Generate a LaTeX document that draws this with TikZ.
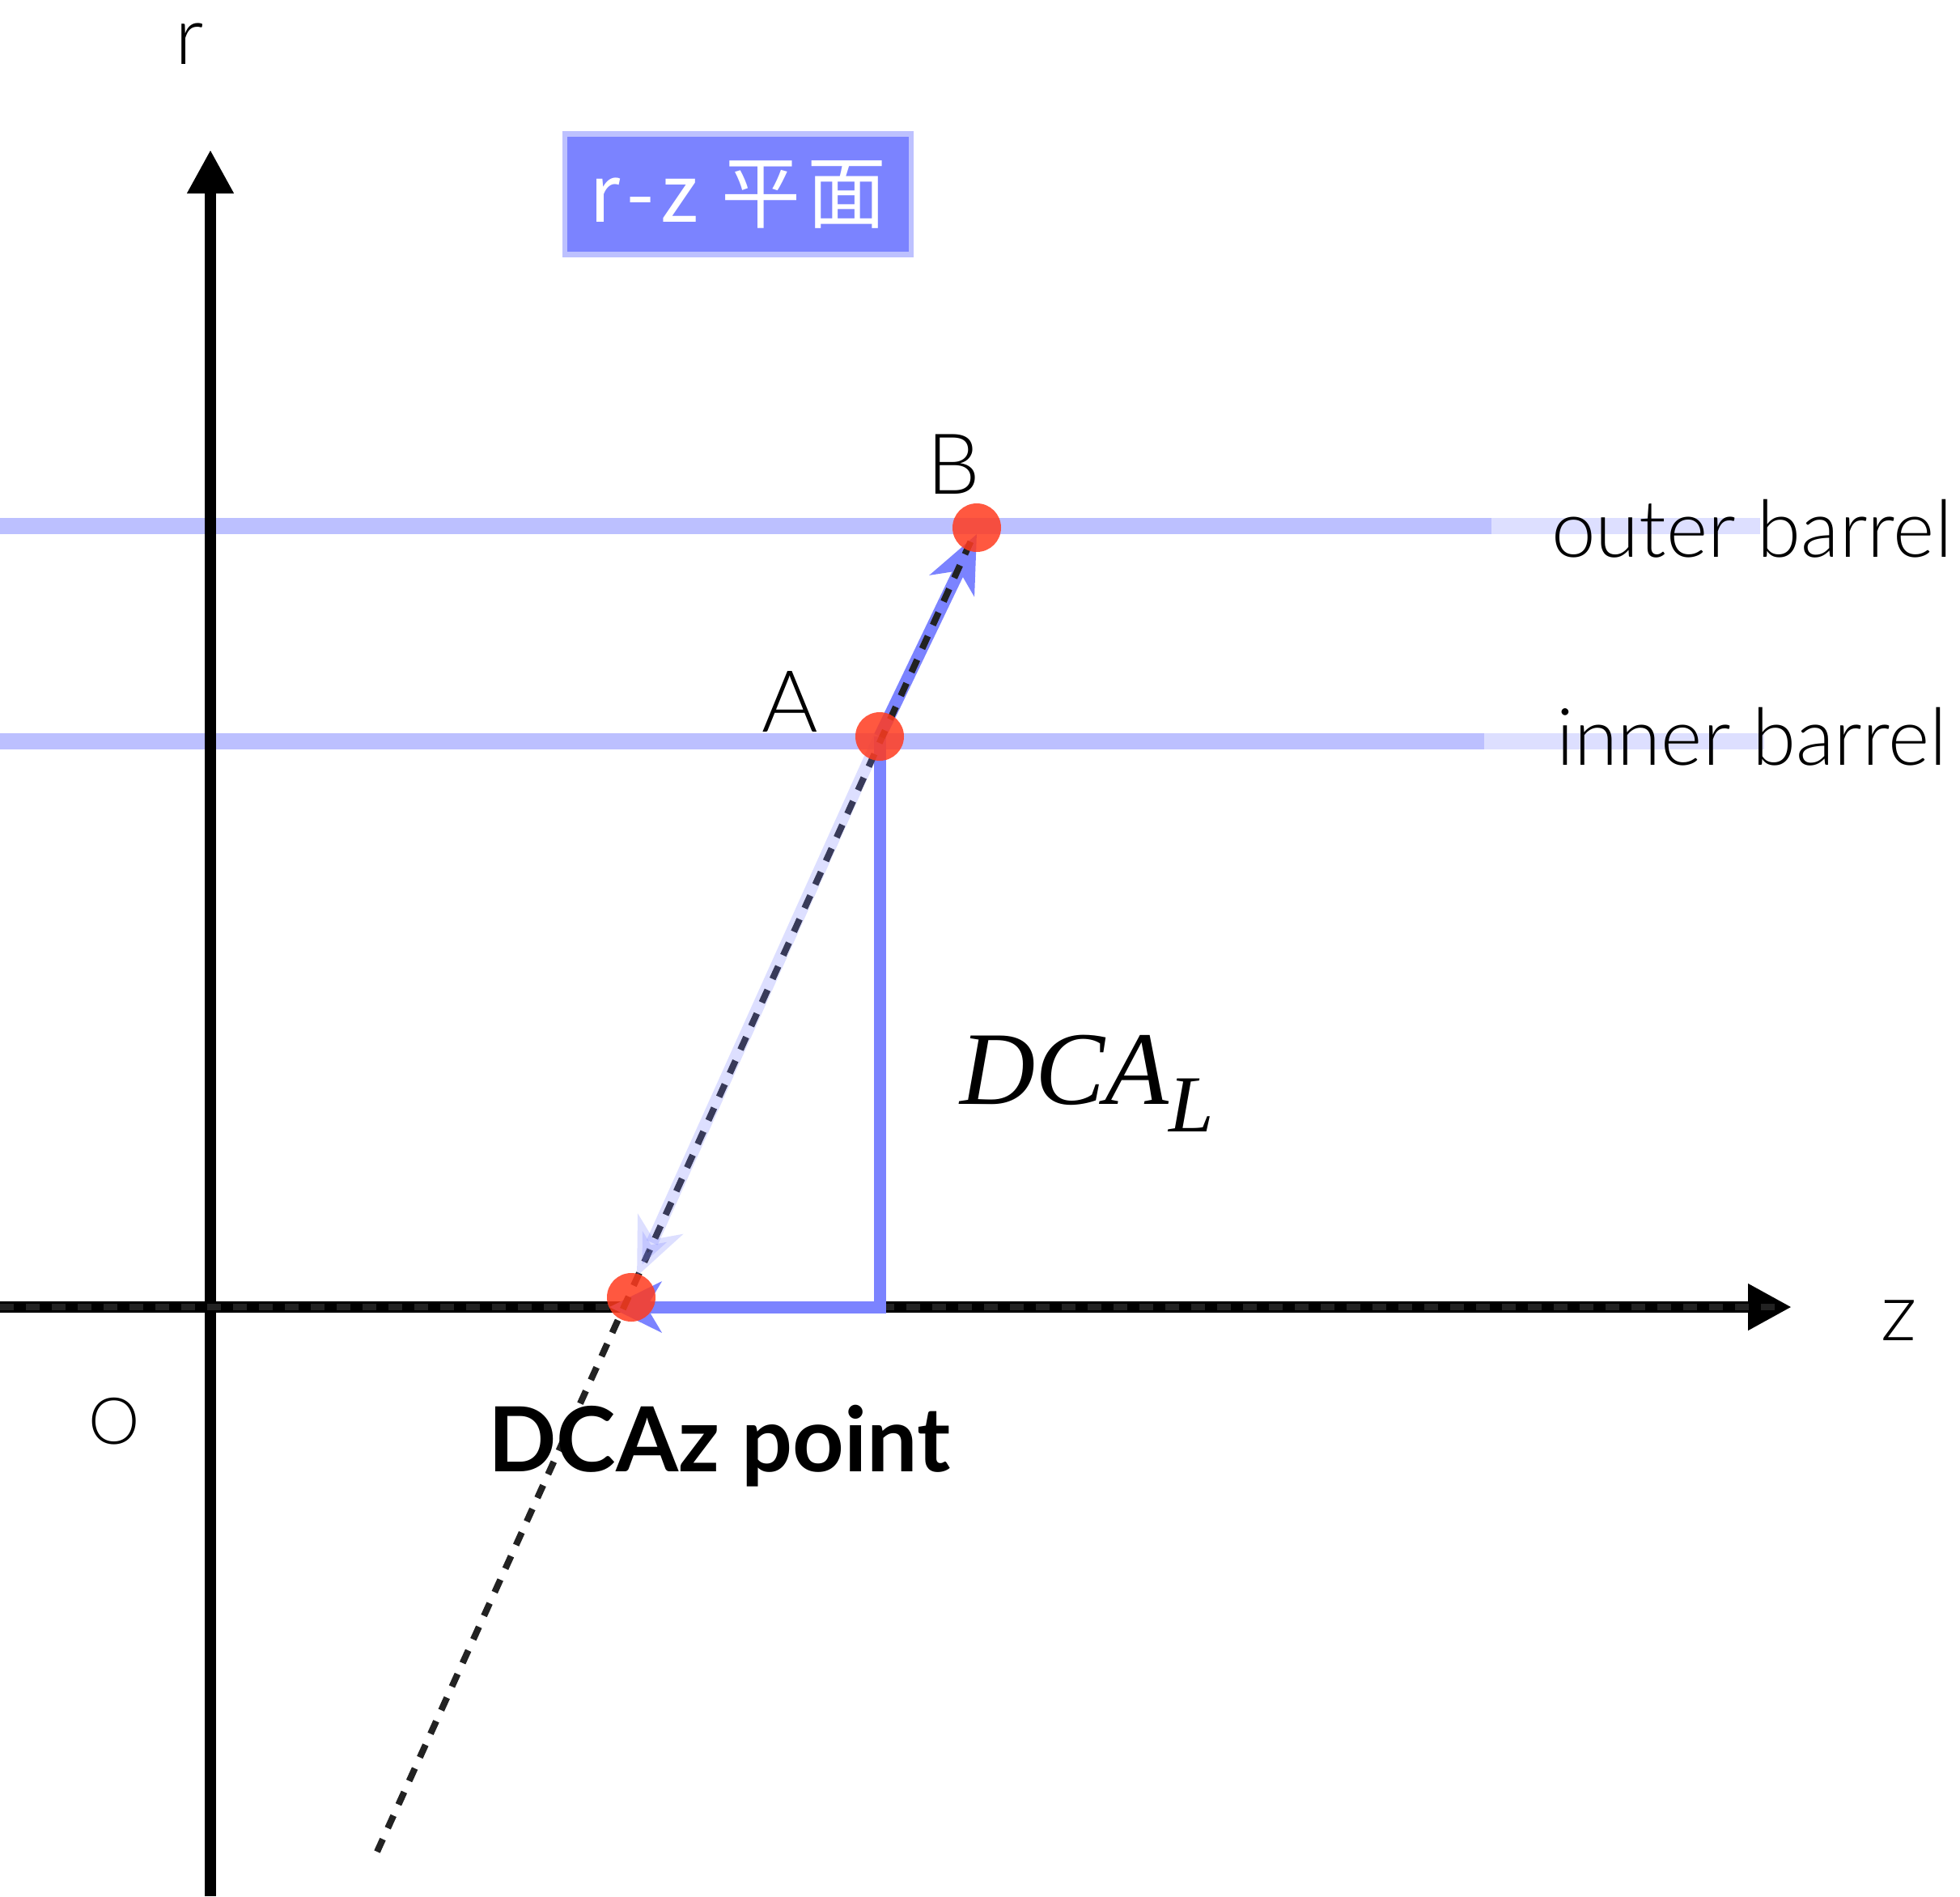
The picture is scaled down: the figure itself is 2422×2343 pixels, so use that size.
\documentclass[tikz,border=0pt]{standalone}
\usepackage{fontspec}
\usetikzlibrary{arrows.meta}
\newfontfamily\labfont{Lato Light}
\newfontfamily\boldlab{Lato Bold}
\newfontfamily\cjkfont{Noto Sans CJK JP}
\newfontfamily\dcafont{Liberation Serif}
\definecolor{trk}{HTML}{7B83FF}
\definecolor{dotc}{HTML}{222222}
\definecolor{hitc}{HTML}{FF3B1F}
\tikzset{
  axisline/.style={line width=14pt, black},
  barrel/.style={line width=20pt, trk, opacity=0.5},
  barrelfade/.style={line width=20pt, trk, opacity=0.25},
  trackdash/.style={line width=8pt, dotc, dash pattern=on 17pt off 15pt},
  bluearrow/.style={line width=15pt, trk, -{Stealth[length=70pt,width=60pt,inset=20pt]}},
  hit/.style={circle, fill=hitc, fill opacity=0.85, minimum size=60pt, inner sep=0pt},
  lab/.style={inner sep=0pt, font=\labfont\fontsize{100}{100}\selectfont},
  barlab/.style={inner sep=0pt, font=\labfont\fontsize{98}{98}\selectfont},
}
\begin{document}
\begin{tikzpicture}[x=1pt,y=-1pt]
\useasboundingbox[fill=white] (0,0) rectangle (2422,2343);
% coordinates
\coordinate (B) at (1207,652);
\coordinate (A) at (1087,910);
\coordinate (Dz) at (780,1603);
\coordinate (corner) at (1087,1615);
\coordinate (trkbot) at (466,2288);
\coordinate (trktop) at (1200,668);
\coordinate (btip) at (1207,660);
\coordinate (ltip) at (787,1577);
\coordinate (htip) at (753,1615);
\coordinate (zstart) at (0,1615);
\coordinate (ztip) at (2214,1615);
\coordinate (zdashend) at (2200,1615);
\coordinate (rstart) at (260,2343);
\coordinate (rtip) at (260,185);
\coordinate (ob0) at (0,650);
\coordinate (ob1) at (1843,650);
\coordinate (ob2) at (2175,650);
\coordinate (ib0) at (0,916);
\coordinate (ib1) at (1834,916);
\coordinate (ib2) at (2180,916);
% barrels
\draw[barrel] (ob0) -- (ob1);
\draw[barrelfade] (ob1) -- (ob2);
\draw[barrel] (ib0) -- (ib1);
\draw[barrelfade] (ib1) -- (ib2);
% axes
\draw[axisline, -{Triangle[length=54pt,width=54pt]}] (rstart) -- (rtip);
\draw[axisline, -{Triangle[length=54pt,width=54pt]}] (zstart) -- (ztip);
\draw[line width=8pt, dotc, dash pattern=on 17pt off 15pt] (zstart) -- (zdashend);
% DCA_L path
\draw[line width=15pt, trk, line join=miter, -{Stealth[length=64pt,width=62pt,inset=18pt]}] (A) -- (corner) -- (htip);
% blue arrow A->B
\draw[bluearrow] (A) -- (btip);
% dashed track
\draw[trackdash] (trkbot) -- (trktop);
% light arrow A->DCAz
\draw[line width=15pt, trk, opacity=0.25, -{Stealth[length=70pt,width=60pt,inset=20pt]}] (A) -- (ltip);
% hits
\node[hit] (hB) at (B) {};
\node[hit] (hA) at (A) {};
\node[hit] (hD) at (Dz) {};
% labels
\node[lab, anchor=base] (rlab) at (234,79) {r};
\node[lab, anchor=base] (zlab) at (2347,1656) {z};
\node[inner sep=0pt, font=\labfont\fontsize{80}{80}\selectfont] (olab) at (141,1756) {O};
\node[lab, font=\labfont\fontsize{106}{106}\selectfont, anchor=base] (Alab) at (976,904) {A};
\node[lab, font=\labfont\fontsize{104}{104}\selectfont, anchor=base] (Blab) at (1178,610) {B};
\node[barlab, anchor=base west] (outl) at (1917,688) {outer barrel};
\node[barlab, anchor=base west] (innl) at (1923,945) {inner barrel};
\node[inner sep=0pt, anchor=base west, font=\boldlab\fontsize{111}{111}\selectfont] (dzlab) at (603,1818) {DCAz point};
\node[inner sep=0pt, anchor=base west, font=\dcafont\itshape\fontsize{129}{129}\selectfont] (dcal) at (1186,1364) {DCA\raisebox{-34pt}{\fontsize{100}{100}\selectfont L}};
% title box
\node[draw=trk!50, line width=6.5pt, fill=trk, text=white, minimum width=428pt, minimum height=149pt, inner sep=0pt, font=\cjkfont\fontsize{98}{98}\selectfont] (title) at (912,240) {r\kern8pt-\kern8pt z\kern28pt 平\kern8pt 面};
\end{tikzpicture}
\end{document}
